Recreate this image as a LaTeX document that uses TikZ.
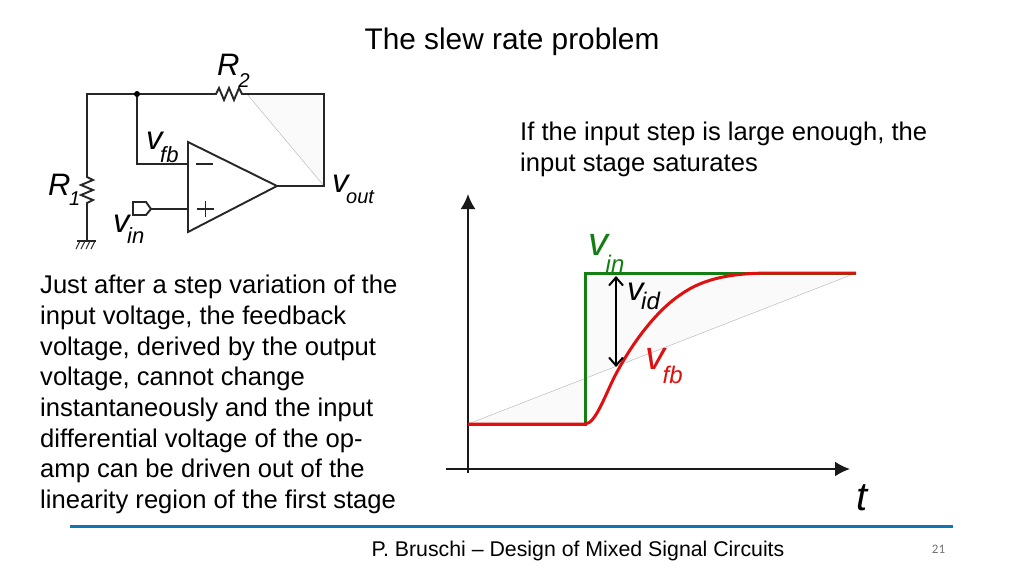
\documentclass[tikz,border=0pt]{standalone}
\usepackage{xcolor}
\usepackage{fontspec}
\setmainfont{Liberation Sans}
\newfontfamily\pagefont{Carlito}
\definecolor{footblue}{HTML}{0F75B5}
\definecolor{vingreen}{HTML}{137F13}
\definecolor{vfbred}{HTML}{E01010}
\definecolor{faintfill}{HTML}{FAFAFA}
\newcommand{\fs}[1]{\fontsize{#1}{#1}\selectfont}
% body text: natural word spaces
\newcommand{\bodyfs}[1]{\fontsize{25.6}{#1}\selectfont\spaceskip=0pt\xspaceskip=0pt\relax}
% symbol with lowered subscript: size, letter, subscript size, subscript, drop
\newcommand{\sym}[5]{{\fs{#1}\itshape #2}\kern-2.5pt\raisebox{#5}{\fs{#3}\itshape #4}}
\usetikzlibrary{arrows.meta}
\tikzset{
    wire/.style={line width=1.9pt, black!85},
    axis/.style={line width=2pt, black!90, -{Latex[length=15pt,width=15pt]}},
    lbl/.style={inner sep=0pt, anchor=base west},
    para/.style={inner sep=0pt, anchor=north west, align=left, text width=#1},
}
\begin{document}
\begin{tikzpicture}[x=1pt,y=-1pt]
    \useasboundingbox (0,0) rectangle (1024,576);
    \fill[white] (0,0) rectangle (1024,576);

    % Title and texts
    \node[inner sep=0pt] (title) at (512,42) {\fs{29.8}The slew rate problem};
    \node[para=430pt] (saturates) at (520,122) {\bodyfs{31}If the input step is large enough, the\\input stage saturates\par};
    \node[para=365pt] (variation) at (40,275) {\bodyfs{30.7}Just after a step variation of the\\input voltage, the feedback\\voltage, derived by the output\\voltage, cannot change\\instantaneously and the input\\differential voltage of the op-\\amp can be driven out of the\\linearity region of the first stage\par};

    % Circuit points
    \coordinate (topleft) at (87,94);
    \coordinate (fbdot) at (137,94);
    \coordinate (rtwoa) at (212,94);
    \coordinate (rtwob) at (247,94);
    \coordinate (topright) at (324,94);
    \coordinate (outpt) at (324,186);
    \coordinate (ronea) at (87,175);
    \coordinate (roneb) at (87,210);
    \coordinate (gnd) at (87,241);
    \coordinate (oppA) at (188,142);
    \coordinate (oppB) at (188,232);
    \coordinate (oppC) at (277,186);
    \coordinate (minusin) at (188,164);
    \coordinate (fbcorner) at (137,164);
    \coordinate (plusin) at (188,209);
    \coordinate (port) at (151,209);

    % Feedback artefact
    \fill[faintfill] (rtwob) -- (topright) -- (outpt) -- cycle;
    \draw[black!30, line width=0.4pt] (rtwob) -- (outpt);

    % Op-amp
    \draw[wire] (oppA) -- (oppB) -- (oppC) -- cycle;
    \draw[wire] (196,164) -- (213,164);
    \draw[wire] (197,209) -- (214,209) (205.5,201) -- (205.5,217);

    % Wires
    \draw[wire] (ronea) -- (topleft) -- (rtwoa);
    \draw[wire] (rtwoa) -- ++(4,0) -- ++(3,-6) -- ++(5,12) -- ++(5,-12) -- ++(5,12) -- ++(5,-12) -- ++(3,6) -- (rtwob);
    \draw[wire] (rtwob) -- (topright) -- (outpt) -- (oppC);
    \draw[wire] (fbdot) -- (fbcorner) -- (minusin);
    \draw[wire] (port) -- (plusin);
    \draw[wire] (ronea) -- ++(0,2) -- ++(6,3) -- ++(-12,5) -- ++(12,5) -- ++(-12,5) -- ++(12,5) -- ++(-6,3) -- ++(0,2) -- (roneb);
    \draw[wire] (roneb) -- (gnd);
    \fill (fbdot) circle (3pt);
    \draw[wire] (133,202) -- (146,202) -- (port) -- (146,215) -- (133,215) -- cycle;

    % Ground
    \draw[line width=1.4pt, black!85] (77,241) -- (96,241);
    \foreach \xg in {80,85,90,95} {
        \draw[line width=1.1pt, black!85] (\xg,241) -- ++(-4,8);
    }

    % Circuit labels
    \node[lbl] (rtwolab) at (217,75) {\sym{31}{R\kern1.5pt}{20}{2}{-12pt}};
    \node[lbl] (ronelab) at (48,195) {\sym{31}{R\kern1pt}{20}{1}{-10pt}};
    \node[lbl] (vfblab) at (146,149) {\sym{33}{v}{22}{fb}{-13pt}};
    \node[lbl] (vinlab) at (113,232) {\sym{33}{v}{22}{in}{-11pt}};
    \node[lbl] (voutlab) at (332,192) {\sym{33}{v}{20}{out}{-11pt}};

    % Graph
    \coordinate (base) at (468,424);
    \coordinate (stepbot) at (585,424);
    \coordinate (steptop) at (585,273);
    \coordinate (final) at (856,273);
    \coordinate (xstart) at (446,469);
    \coordinate (xend) at (850,469);
    \coordinate (ystart) at (468,473);
    \coordinate (yend) at (468,194);

    % Faint region behind the curves
    \fill[faintfill] (base) -- (stepbot) -- (steptop) -- (final) -- cycle;
    \draw[black!30, line width=0.4pt] (base) -- (final);

    \draw[axis] (ystart) -- (yend);
    \draw[axis] (xstart) -- (xend);

    \draw[line width=3pt, vingreen] (base) -- (stepbot) -- (steptop) -- (final);
    \draw[line width=3pt, vfbred] (base) -- (stepbot)
        .. controls (596,424) and (606,392) .. (617,372)
        .. controls (632,344) and (655,312) .. (680,295)
        .. controls (705,277) and (735,273) .. (773,273) -- (final);

    \coordinate (vidtop) at (616,276);
    \coordinate (vidbot) at (616,367);
    \draw[line width=2pt, black, {Straight Barb[length=8pt,width=14pt]}-{Straight Barb[length=8pt,width=14pt]}] (vidtop) -- (vidbot);

    % Graph labels
    \node[lbl, vingreen] (vinplot) at (588,255) {\sym{40}{v}{24}{in}{-17pt}};
    \node[lbl] (vidplot) at (627,300) {\sym{33}{v}{24}{id}{-9pt}};
    \node[lbl, vfbred] (vfbplot) at (645,369) {\sym{40}{v}{24}{fb}{-14pt}};
    \node[lbl] (tlab) at (856,510) {\fs{40}\itshape t};

    % Footer
    \coordinate (footl) at (70,526);
    \coordinate (footr) at (953,526);
    \draw[line width=3pt, footblue] (footl) -- (footr);
    \node[inner sep=0pt] (course) at (578,551) {\fs{21.3}P. Bruschi – Design of Mixed Signal Circuits};
    \node[inner sep=0pt, text=black!55] (pagenum) at (938.5,549) {\pagefont\fs{13}21};
\end{tikzpicture}
\end{document}
